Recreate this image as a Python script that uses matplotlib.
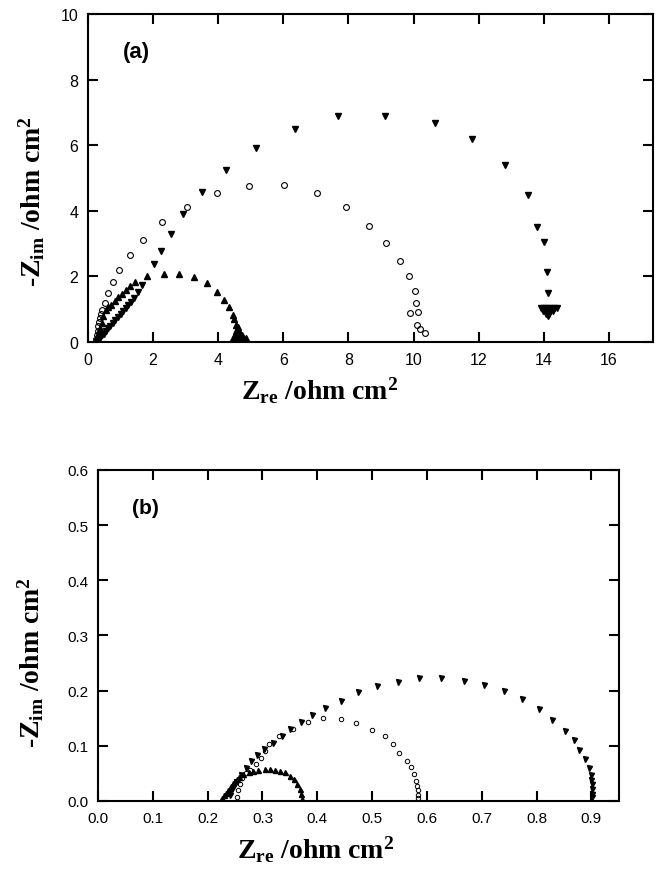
import matplotlib
matplotlib.use("Agg")
import matplotlib.pyplot as plt

plt.rcParams['font.family'] = ['Liberation Sans', 'DejaVu Sans']
plt.rcParams['mathtext.fontset'] = 'custom'
plt.rcParams['mathtext.rm'] = 'Liberation Serif:bold'
plt.rcParams['mathtext.bf'] = 'Liberation Serif:bold'
plt.rcParams['mathtext.it'] = 'Liberation Serif:bold'

# ---------------- Panel (a) data ----------------
a_up_x = [0.22, 0.26, 0.30, 0.34, 0.38, 0.42, 0.47, 0.54, 0.62, 0.71, 0.82, 0.93, 1.04, 1.16, 1.30,
          1.44, 1.80, 2.33, 2.80, 3.26, 3.66, 3.96, 4.18, 4.33, 4.46, 4.47, 4.56,
          4.45, 4.52, 4.60, 4.68, 4.76, 4.84, 4.50, 4.58, 4.66, 4.74, 4.55, 4.63, 4.60]
a_up_y = [0.03, 0.12, 0.22, 0.32, 0.42, 0.58, 0.78, 0.98, 1.06, 1.13, 1.25, 1.36, 1.47, 1.59, 1.70,
          1.82, 2.00, 2.07, 2.07, 1.97, 1.79, 1.53, 1.28, 1.06, 0.82, 0.70, 0.52,
          0.12, 0.12, 0.12, 0.12, 0.12, 0.12, 0.22, 0.22, 0.22, 0.22, 0.33, 0.33, 0.45]

a_circ_x = [0.27, 0.28, 0.30, 0.32, 0.34, 0.37, 0.40, 0.44, 0.52, 0.62, 0.76, 0.96, 1.29, 1.70, 2.28,
            3.03, 3.95, 4.95, 6.01, 7.03, 7.93, 8.63, 9.16, 9.59, 9.86, 10.03, 10.08, 10.13,
            9.90, 10.10, 10.20, 10.34]
a_circ_y = [0.10, 0.21, 0.35, 0.48, 0.60, 0.72, 0.85, 0.98, 1.18, 1.48, 1.82, 2.20, 2.66, 3.12, 3.65,
            4.11, 4.53, 4.77, 4.79, 4.54, 4.11, 3.55, 3.01, 2.48, 2.02, 1.55, 1.18, 0.92,
            0.88, 0.52, 0.40, 0.27]

a_down_x = [0.24, 0.30, 0.36, 0.42, 0.48, 0.55, 0.62, 0.69, 0.76, 0.84, 0.92, 1.00, 1.08, 1.16, 1.24,
            1.33, 1.42, 1.55, 1.67, 2.02, 2.24, 2.55, 2.92, 3.49, 4.25, 5.17, 6.37, 7.68, 9.11,
            10.66, 11.79, 12.81, 13.51, 13.78, 13.99, 14.09, 14.12,
            13.90, 14.00, 14.10, 14.20, 14.30, 14.40, 13.98, 14.08, 14.18, 14.28, 14.06, 14.16, 14.12]
a_down_y = [0.02, 0.06, 0.13, 0.20, 0.26, 0.34, 0.42, 0.50, 0.58, 0.67, 0.76, 0.85, 0.94, 1.03, 1.13,
            1.22, 1.33, 1.52, 1.74, 2.38, 2.78, 3.29, 3.90, 4.56, 5.25, 5.93, 6.51, 6.88, 6.90,
            6.68, 6.19, 5.41, 4.48, 3.50, 3.06, 2.14, 1.49,
            1.04, 1.04, 1.04, 1.04, 1.04, 1.04, 0.95, 0.95, 0.95, 0.95, 0.86, 0.86, 0.78]

# ---------------- Panel (b) data ----------------
b_up_x = [0.224, 0.227, 0.230, 0.233, 0.237, 0.240, 0.243, 0.247, 0.250, 0.254, 0.257, 0.265, 0.276,
          0.283, 0.292, 0.304, 0.313, 0.322, 0.332, 0.341, 0.350, 0.357, 0.363, 0.368, 0.371, 0.373]
b_up_y = [0.002, 0.006, 0.010, 0.014, 0.019, 0.023, 0.028, 0.033, 0.037, 0.040, 0.043, 0.049, 0.052,
          0.055, 0.057, 0.058, 0.058, 0.057, 0.055, 0.052, 0.046, 0.039, 0.031, 0.022, 0.013, 0.004]

b_circ_x = [0.253, 0.256, 0.259, 0.262, 0.270, 0.277, 0.289, 0.298, 0.305, 0.312, 0.330, 0.356, 0.383,
            0.410, 0.444, 0.471, 0.499, 0.523, 0.538, 0.550, 0.563, 0.571, 0.577, 0.581, 0.582,
            0.583, 0.583, 0.583]
b_circ_y = [0.007, 0.019, 0.030, 0.041, 0.050, 0.057, 0.067, 0.077, 0.090, 0.103, 0.118, 0.130, 0.143,
            0.150, 0.149, 0.141, 0.129, 0.118, 0.103, 0.087, 0.073, 0.061, 0.049, 0.037, 0.028,
            0.019, 0.011, 0.005]

b_down_x = [0.240, 0.245, 0.252, 0.260, 0.270, 0.280, 0.290, 0.302, 0.319, 0.335, 0.351, 0.371, 0.390,
            0.415, 0.444, 0.475, 0.509, 0.547, 0.585, 0.626, 0.667, 0.705, 0.740, 0.773, 0.804,
            0.828, 0.852, 0.868, 0.877, 0.888, 0.895, 0.899, 0.900, 0.902, 0.902, 0.901, 0.901]
b_down_y = [0.010, 0.022, 0.035, 0.047, 0.060, 0.072, 0.083, 0.095, 0.105, 0.118, 0.130, 0.143, 0.156,
            0.168, 0.182, 0.197, 0.208, 0.216, 0.222, 0.222, 0.218, 0.211, 0.199, 0.184, 0.167,
            0.147, 0.127, 0.111, 0.092, 0.076, 0.059, 0.047, 0.038, 0.030, 0.022, 0.013, 0.008]

a_xticks = [0, 2, 4, 6, 8, 10, 12, 14, 16]
a_yticks = [0, 2, 4, 6, 8, 10]
b_xticks = [0.0, 0.1, 0.2, 0.3, 0.4, 0.5, 0.6, 0.7, 0.8, 0.9]
b_yticks = [0.0, 0.1, 0.2, 0.3, 0.4, 0.5, 0.6]

fig = plt.figure(figsize=(6.6, 8.7), dpi=100)
axa = fig.add_axes([0.1333, 0.6057, 0.856, 0.377])
axb = fig.add_axes([0.1485, 0.0782, 0.789, 0.3805])

label_font = dict(fontsize=20, fontfamily='Liberation Serif', fontweight='bold')

def style(ax, fs):
    for s in ax.spines.values():
        s.set_linewidth(1.5)
    ax.tick_params(direction='in', length=7, width=1.5, top=True, right=True,
                   labelsize=fs, pad=7)

# Panel (a)
axa.plot(a_up_x, a_up_y, linestyle='none', marker='^', ms=5, color='black')
axa.plot(a_circ_x, a_circ_y, linestyle='none', marker='o', ms=4.2, mfc='none', mec='black', mew=0.8)
axa.plot(a_down_x, a_down_y, linestyle='none', marker='v', ms=5, color='black')
axa.set_xlim(0, 17.35)
axa.set_ylim(0, 10)
axa.set_xticks(a_xticks)
axa.set_yticks(a_yticks)
axa.set_xticklabels([str(v) for v in a_xticks])
axa.set_yticklabels([str(v) for v in a_yticks])
style(axa, 11.5)
axa.set_xlabel(r'Z$_{\rm re}$ /ohm cm$^{2}$', **label_font)
axa.set_ylabel(r'-Z$_{\rm im}$ /ohm cm$^{2}$', **label_font)
axa.xaxis.set_label_coords(0.41, -0.10)
axa.yaxis.set_label_coords(-0.072, 0.43)
axa.text(0.062, 0.887, '(a)', transform=axa.transAxes, fontsize=16, fontweight='bold',
         va='center', ha='left')

# Panel (b)
axb.plot(b_up_x, b_up_y, linestyle='none', marker='^', ms=3.6, color='black')
axb.plot(b_circ_x, b_circ_y, linestyle='none', marker='o', ms=3.2, mfc='none', mec='black', mew=0.7)
axb.plot(b_down_x, b_down_y, linestyle='none', marker='v', ms=3.6, color='black')
axb.set_xlim(0, 0.95)
axb.set_ylim(0, 0.6)
axb.set_xticks(b_xticks)
axb.set_yticks(b_yticks)
axb.set_xticklabels(['%.1f' % v for v in b_xticks])
axb.set_yticklabels(['%.1f' % v for v in b_yticks])
style(axb, 11)
axb.set_xlabel(r'Z$_{\rm re}$ /ohm cm$^{2}$', **label_font)
axb.set_ylabel(r'-Z$_{\rm im}$ /ohm cm$^{2}$', **label_font)
axb.xaxis.set_label_coords(0.417, -0.10)
axb.yaxis.set_label_coords(-0.10, 0.42)
axb.text(0.065, 0.888, '(b)', transform=axb.transAxes, fontsize=15, fontweight='bold',
         va='center', ha='left')

fig.savefig('out.png', dpi=100)
